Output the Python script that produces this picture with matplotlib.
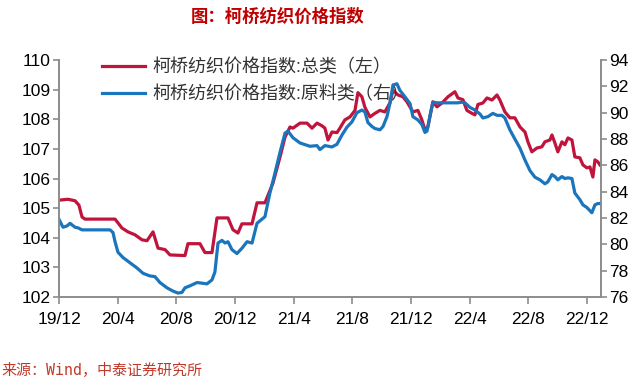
import matplotlib.pyplot as plt

plt.rcParams['font.family'] = ['Liberation Sans', 'Noto Sans CJK SC']

# Months since Dec 2019
t_total = [0, 0.61, 1.09, 1.36, 1.57, 1.77, 3.82, 4.29, 4.70, 5.18, 5.66, 6.00,
           6.41, 6.75, 7.23, 7.57, 8.59, 8.79, 9.61, 9.95, 10.43, 10.77, 11.52,
           11.86, 12.20, 12.47, 13.16, 13.50, 14.04, 14.59, 15.07, 15.41, 15.75,
           15.95, 16.43, 16.91, 17.25, 17.59, 17.93, 18.13, 18.34, 18.61, 18.95,
           19.15, 19.49, 19.84, 20.18, 20.38, 20.65, 20.86, 21.20, 21.54, 21.88,
           22.22, 22.56, 22.77, 23.11, 23.45, 23.72, 24.13, 24.47, 24.74, 24.95,
           25.15, 25.49, 25.77, 26.11, 26.52, 26.99, 27.20, 27.54, 27.81, 28.15,
           28.36, 28.56, 28.90, 29.18, 29.52, 29.86, 30.06, 30.40, 30.74, 31.08,
           31.43, 31.77, 31.97, 32.24, 32.58, 32.92, 33.13, 33.47, 33.61, 33.81,
           34.01, 34.29, 34.49, 34.70, 34.97, 35.17, 35.51, 35.72, 35.99, 36.20,
           36.40, 36.54, 36.74, 36.88]
total = [105.27, 105.3, 105.25, 105.1, 104.7, 104.63, 104.63, 104.33, 104.2, 104.1,
         103.93, 103.9, 104.2, 103.65, 103.6, 103.42, 103.4, 103.8, 103.8, 103.5,
         103.5, 104.67, 104.67, 104.27, 104.16, 104.47, 104.47, 105.18, 105.18,
         105.85, 106.73, 107.4, 107.74, 107.7, 107.87, 107.87, 107.7, 107.87,
         107.78, 107.7, 107.3, 107.57, 107.55, 107.7, 107.98, 108.08, 108.3, 108.9,
         108.76, 108.4, 108.08, 108.2, 108.3, 108.25, 108.55, 108.98, 108.82,
         108.76, 108.59, 108.25, 108.3, 107.98, 107.64, 107.74, 108.59, 108.42,
         108.55, 108.76, 108.93, 108.72, 108.66, 108.3, 108.2, 108.15, 108.5,
         108.55, 108.72, 108.65, 108.82, 108.65, 108.25, 108.05, 108.05, 107.74,
         107.57, 107.24, 106.9, 107.03, 107.07, 107.24, 107.3, 107.47, 107.2, 106.9,
         107.24, 107.14, 107.37, 107.3, 106.73, 106.7, 106.46, 106.36, 106.39,
         106.05, 106.63, 106.56, 106.46]

t_raw = [0, 0.27, 0.55, 0.75, 1.09, 1.30, 1.57, 3.48, 3.68, 3.82, 4.02, 4.36, 4.84,
         5.32, 5.73, 6.20, 6.54, 6.88, 7.36, 7.77, 8.11, 8.38, 8.59, 8.93, 9.41,
         9.75, 10.09, 10.43, 10.63, 10.84, 11.11, 11.32, 11.52, 11.79, 12.13,
         12.47, 12.82, 13.16, 13.50, 14.04, 14.38, 14.72, 15.07, 15.41, 15.61,
         15.95, 16.43, 17.11, 17.59, 17.79, 18.13, 18.61, 18.95, 19.29, 19.63,
         19.97, 20.31, 20.65, 20.86, 21.06, 21.34, 21.54, 21.88, 22.09, 22.36,
         22.56, 22.77, 23.04, 23.24, 23.59, 23.93, 24.13, 24.47, 24.74, 24.95,
         25.09, 25.29, 25.49, 25.77, 26.52, 27.20, 27.47, 27.68, 28.02, 28.36,
         28.70, 28.90, 29.24, 29.58, 29.86, 30.20, 30.40, 30.74, 31.08, 31.43,
         31.77, 32.11, 32.45, 32.79, 33.13, 33.33, 33.61, 33.81, 34.01, 34.29,
         34.49, 34.70, 34.97, 35.17, 35.51, 35.72, 35.99, 36.33, 36.54, 36.74,
         36.88]
raw = [81.9, 81.3, 81.4, 81.6, 81.3, 81.25, 81.1, 81.1, 80.9, 80.2, 79.4, 79.0,
       78.6, 78.2, 77.8, 77.6, 77.55, 77.1, 76.7, 76.45, 76.3, 76.35, 76.7, 76.85,
       77.1, 77.05, 77.0, 77.3, 77.9, 80.1, 80.3, 80.1, 80.2, 79.6, 79.3, 79.7,
       80.2, 80.1, 81.6, 82.1, 83.9, 85.4, 87.0, 88.45, 88.6, 88.1, 87.7, 87.45,
       87.5, 87.2, 87.5, 87.4, 87.6, 88.3, 88.9, 89.3, 90.0, 90.2, 90.05, 89.25,
       88.95, 88.8, 88.7, 88.95, 89.7, 90.7, 92.1, 92.2, 91.7, 91.2, 90.7, 89.7,
       89.45, 89.1, 88.5, 88.6, 89.75, 90.8, 90.75, 90.75, 90.75, 90.8, 90.75,
       90.4, 90.2, 89.9, 89.6, 89.7, 89.95, 89.8, 89.8, 89.6, 88.7, 88.0, 87.3,
       86.4, 85.6, 85.1, 84.9, 84.6, 84.75, 85.3, 85.15, 84.9, 85.15, 85.0, 85.05,
       85.0, 83.9, 83.4, 83.0, 82.8, 82.4, 83.0, 83.1, 83.1]

tick_pos = [0, 4, 8, 12, 16, 20, 24, 28, 32, 36]
tick_labels = ['19/12', '20/4', '20/8', '20/12', '21/4', '21/8', '21/12',
               '22/4', '22/8', '22/12']

red = '#C0143C'
blue = '#1B75BC'
grey = '#8C8C8C'

fig = plt.figure(figsize=(6.4, 3.8), dpi=100)
ax = fig.add_axes([0.0922, 0.2184, 0.8468, 0.6236])
ax2 = ax.twinx()

l1, = ax.plot(t_total, total, color=red, lw=2.3, label='柯桥纺织价格指数:总类（左）')
l2, = ax2.plot(t_raw, raw, color=blue, lw=2.3, label='柯桥纺织价格指数:原料类（右）')

ax.set_xlim(0, 36.95)
ax.set_ylim(102, 110)
ax2.set_ylim(76, 94)
ax.set_yticks(range(102, 111))
ax2.set_yticks(range(76, 95, 2))
ax.set_xticks(tick_pos)
ax.set_xticklabels(tick_labels)

for a in (ax, ax2):
    a.spines['top'].set_visible(False)
    for s in ('left', 'right', 'bottom'):
        a.spines[s].set_color(grey)
        a.spines[s].set_linewidth(1.2)
    a.tick_params(colors=grey, labelcolor='black', labelsize=12.5,
                  length=4, width=1.2)
ax.tick_params(axis='x', length=5, pad=6)
ax.tick_params(axis='y', pad=2)
ax2.tick_params(axis='y', pad=2)

# legend sits under the curves, as in the original
leg = ax2.legend(handles=[l1, l2], loc='upper left', bbox_to_anchor=(0.079, 1.003),
                 frameon=False, fontsize=13, handlelength=2.4, handletextpad=0.4,
                 labelspacing=0.5, borderpad=0, borderaxespad=0,
                 labelcolor='#333333')
leg.set_zorder(1)

fig.text(0.434, 0.958, '图：柯桥纺织价格指数', color='#C00000', fontsize=12.5,
         fontweight='bold', ha='center', va='center')
fig.text(0.003, 0.027, '来源：Wind，中泰证券研究所', color='#C0392B', fontsize=10.8,
         ha='left', va='center', family=['DejaVu Sans Mono', 'Noto Sans CJK SC'])

fig.savefig('out.png', dpi=100)
